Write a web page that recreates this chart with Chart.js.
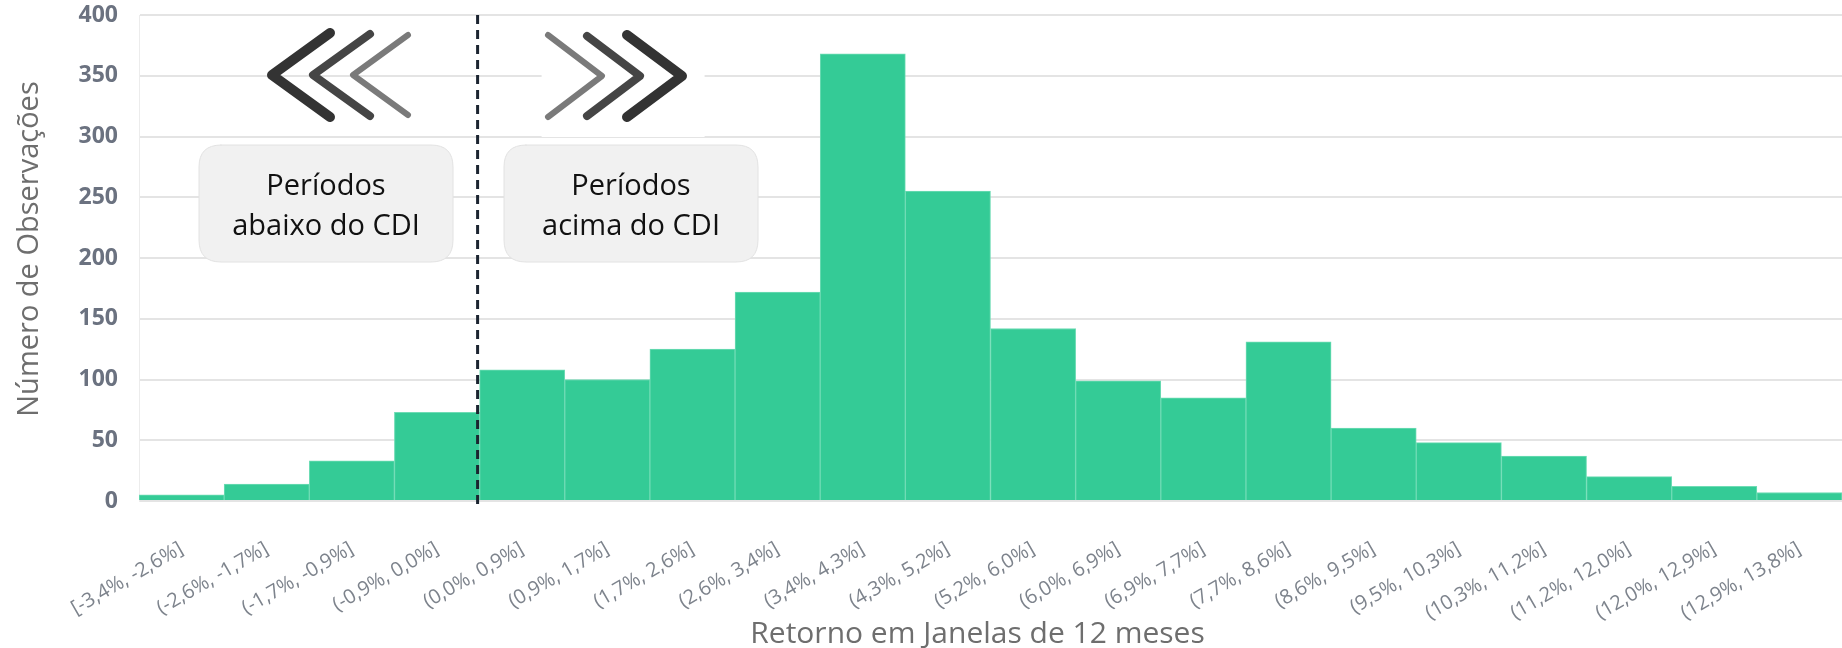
<!DOCTYPE html>
<html>
<head>
<meta charset="utf-8">
<script src="https://cdn.jsdelivr.net/npm/chart.js@4"></script>
<style>
  html, body { margin: 0; padding: 0; background: #fff; }
  #wrap { width: 1842px; height: 648px; }
</style>
</head>
<body>
<div id="wrap"><canvas id="histChart" width="1842" height="648"></canvas></div>
<script>
// faixas de retorno em janelas de 12 meses
const faixas = [
  "[-3,4%, -2,6%]", "(-2,6%, -1,7%]", "(-1,7%, -0,9%]", "(-0,9%, 0,0%]",
  "(0,0%, 0,9%]", "(0,9%, 1,7%]", "(1,7%, 2,6%]", "(2,6%, 3,4%]",
  "(3,4%, 4,3%]", "(4,3%, 5,2%]", "(5,2%, 6,0%]", "(6,0%, 6,9%]",
  "(6,9%, 7,7%]", "(7,7%, 8,6%]", "(8,6%, 9,5%]", "(9,5%, 10,3%]",
  "(10,3%, 11,2%]", "(11,2%, 12,0%]", "(12,0%, 12,9%]", "(12,9%, 13,8%]"
];
const observacoes = [5, 14, 33, 73, 108, 100, 125, 172, 368, 255, 142, 99, 85, 131, 60, 48, 37, 20, 12, 7];
const yTicks = [0, 50, 100, 150, 200, 250, 300, 350, 400];

// index of the first bin above zero (CDI threshold)
const idxCorte = 4;

const textoAbaixo = ["Períodos", "abaixo do CDI"];
const textoAcima = ["Períodos", "acima do CDI"];
const tituloX = "Retorno em Janelas de 12 meses";
const tituloY = "Número de Observações";

function roundRect(ctx, x, y, w, h, r) {
  ctx.beginPath();
  ctx.moveTo(x + r, y);
  ctx.lineTo(x + w - r, y);
  ctx.quadraticCurveTo(x + w, y, x + w, y + r);
  ctx.lineTo(x + w, y + h - r);
  ctx.quadraticCurveTo(x + w, y + h, x + w - r, y + h);
  ctx.lineTo(x + r, y + h);
  ctx.quadraticCurveTo(x, y + h, x, y + h - r);
  ctx.lineTo(x, y + r);
  ctx.quadraticCurveTo(x, y, x + r, y);
  ctx.closePath();
}

function chevron(ctx, tipX, tipY, armX, half, color, width) {
  ctx.beginPath();
  ctx.moveTo(armX, tipY - half);
  ctx.lineTo(tipX, tipY);
  ctx.lineTo(armX, tipY + half);
  ctx.strokeStyle = color;
  ctx.lineWidth = width;
  ctx.lineCap = "round";
  ctx.lineJoin = "round";
  ctx.stroke();
}

function caixa(ctx, x, y, w, h, linhas) {
  roundRect(ctx, x, y, w, h, 22);
  ctx.fillStyle = "#f1f1f1";
  ctx.fill();
  ctx.strokeStyle = "#e2e2e2";
  ctx.lineWidth = 1;
  ctx.stroke();
  ctx.fillStyle = "#111";
  ctx.font = "29px 'Open Sans'";
  ctx.textAlign = "center";
  ctx.textBaseline = "alphabetic";
  ctx.fillText(linhas[0], x + w / 2, y + 50);
  ctx.fillText(linhas[1], x + w / 2, y + 90);
}

const anotacoes = {
  id: "anotacoes",
  afterDatasetsDraw(chart) {
    const ctx = chart.ctx;
    const xs = chart.scales.x;
    const area = chart.chartArea;
    const corteX = (xs.getPixelForValue(idxCorte - 1) + xs.getPixelForValue(idxCorte)) / 2 - 2;
    ctx.save();

    // blank patch behind the right arrows
    ctx.fillStyle = "#fff";
    ctx.fillRect(corteX + 64, area.top + 8, 163, 114);

    // arrows
    chevron(ctx, 272, 75, 330, 42, "#333333", 10);
    chevron(ctx, 313, 75, 370, 41, "#454545", 8);
    chevron(ctx, 353, 75, 408, 40, "#7a7a7a", 6);
    chevron(ctx, 602, 76, 548, 41, "#7a7a7a", 6);
    chevron(ctx, 640, 76, 587, 40, "#454545", 8);
    chevron(ctx, 682, 76, 627, 41, "#333333", 10);

    caixa(ctx, 199, 145, 254, 117, textoAbaixo);
    caixa(ctx, 504, 145, 254, 117, textoAcima);

    // dashed CDI threshold
    ctx.beginPath();
    ctx.setLineDash([9, 6]);
    ctx.moveTo(corteX, area.top);
    ctx.lineTo(corteX, area.bottom + 6);
    ctx.strokeStyle = "#1b2430";
    ctx.lineWidth = 3;
    ctx.lineCap = "butt";
    ctx.stroke();
    ctx.restore();
  },
  afterDraw(chart) {
    // axis titles, a little off the plot centre
    const ctx = chart.ctx;
    const area = chart.chartArea;
    ctx.save();
    ctx.fillStyle = "#6e6e6e";
    ctx.textAlign = "center";
    ctx.textBaseline = "alphabetic";
    ctx.font = "30px 'Open Sans'";
    ctx.fillText(tituloX, (area.left + area.right) / 2 - 13, 643);
    ctx.font = "29px 'Open Sans'";
    ctx.translate(38, (area.top + area.bottom) / 2 - 9);
    ctx.rotate(-Math.PI / 2);
    ctx.fillText(tituloY, 0, 0);
    ctx.restore();
  }
};

new Chart(document.getElementById("histChart"), {
  type: "bar",
  data: {
    labels: faixas,
    datasets: [{
      data: observacoes,
      backgroundColor: "#34cb96",
      borderColor: "#6fdcb5",
      borderWidth: 1,
      barPercentage: 1,
      categoryPercentage: 1
    }]
  },
  options: {
    responsive: false,
    animation: false,
    events: [],
    layout: { padding: { top: 15, right: 0, bottom: 0, left: 0 } },
    plugins: { legend: { display: false }, tooltip: { enabled: false } },
    scales: {
      x: {
        grid: { display: false },
        border: { display: false },
        ticks: {
          color: "#7d838c",
          font: { family: "'Open Sans'", size: 20 },
          minRotation: 30,
          maxRotation: 30,
          autoSkip: false,
          padding: 28
        },
        afterFit(scale) {
          scale.height = 147;
          scale.paddingLeft = 0;
          scale.paddingRight = 0;
        }
      },
      y: {
        min: 0,
        max: 400,
        afterBuildTicks(scale) { scale.ticks = yTicks.map(v => ({ value: v })); },
        grid: { color: "#e4e4e4", lineWidth: 2, drawTicks: false },
        border: { display: true, color: "#ececec", width: 1 },
        ticks: {
          color: "#6b7280",
          font: { family: "'Open Sans'", size: 23, weight: "bold" },
          padding: 21
        },
        afterFit(scale) {
          scale.width = 139;
          scale.paddingTop = 0;
          scale.paddingBottom = 0;
        }
      }
    }
  },
  plugins: [anotacoes]
});
</script>
</body>
</html>
